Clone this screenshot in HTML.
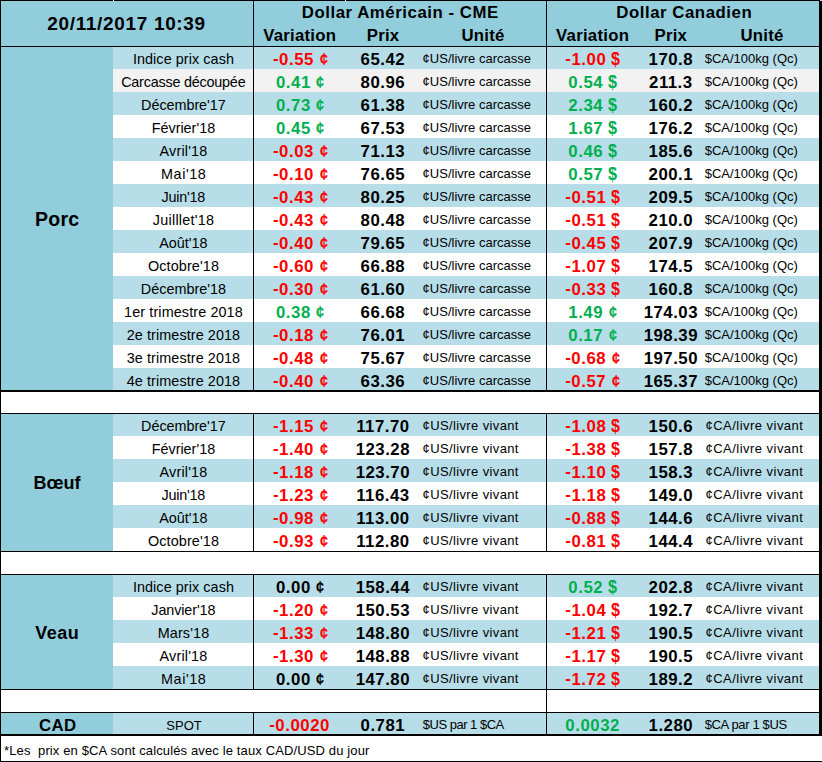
<!DOCTYPE html>
<html><head><meta charset="utf-8"><title>Prix</title>
<style>
html,body{margin:0;padding:0;background:#fff;}
body{width:822px;height:762px;position:relative;overflow:hidden;font-family:"Liberation Sans",sans-serif;}
.r{position:absolute;}
.t{position:absolute;white-space:nowrap;line-height:0;height:0;box-sizing:border-box;}
.c,.d{display:inline-block;transform-origin:0% 50%;letter-spacing:0;margin-left:-0.8px;}
.m{position:relative;top:-1px;}
.c{transform:scaleX(.86);margin-left:0.4px;}
.d{transform:scale(.96,1.08);}
</style></head><body>
<div class="r" style="left:0px;top:0px;width:822px;height:47px;background:#92CDDC"></div>
<div class="r" style="left:0px;top:46px;width:113px;height:345px;background:#92CDDC"></div>
<div class="r" style="left:113px;top:46px;width:706px;height:23px;background:#B7DEE8"></div>
<div class="t" style="font-size:14.4px;letter-spacing:0.07px;font-weight:normal;color:#000000;top:59.25px;left:-16.56px;width:400px;text-align:center;">Indice prix cash</div>
<div class="t" style="font-size:16.8px;letter-spacing:0.55px;font-weight:bold;color:#FF0000;top:59.75px;left:100.88px;width:400px;text-align:center;"><span class="m">-</span>0.55 <span class="c">¢</span></div>
<div class="t" style="font-size:16.8px;letter-spacing:0.5px;font-weight:bold;color:#000000;top:59.75px;left:182.85px;width:400px;text-align:center;">65.42</div>
<div class="t" style="font-size:13.0px;letter-spacing:0.0px;font-weight:normal;color:#000000;top:58.75px;left:422.6px;">¢US/livre carcasse</div>
<div class="t" style="font-size:16.8px;letter-spacing:0.55px;font-weight:bold;color:#FF0000;top:59.75px;left:392.67px;width:400px;text-align:center;"><span class="m">-</span>1.00 <span class="d">$</span></div>
<div class="t" style="font-size:16.8px;letter-spacing:0.5px;font-weight:bold;color:#000000;top:59.75px;left:470.85px;width:400px;text-align:center;">170.8</div>
<div class="t" style="font-size:13.0px;letter-spacing:0.0px;font-weight:normal;color:#000000;top:58.75px;left:704.7px;">$CA/100kg (Qc)</div>
<div class="r" style="left:113px;top:69px;width:706px;height:23px;background:#F2F2F2"></div>
<div class="t" style="font-size:14.4px;letter-spacing:-0.22px;font-weight:normal;color:#000000;top:82.25px;left:-16.71px;width:400px;text-align:center;">Carcasse découpée</div>
<div class="t" style="font-size:16.8px;letter-spacing:0.55px;font-weight:bold;color:#00B050;top:82.75px;left:100.88px;width:400px;text-align:center;">0.41 <span class="c">¢</span></div>
<div class="t" style="font-size:16.8px;letter-spacing:0.5px;font-weight:bold;color:#000000;top:82.75px;left:182.85px;width:400px;text-align:center;">80.96</div>
<div class="t" style="font-size:13.0px;letter-spacing:0.0px;font-weight:normal;color:#000000;top:81.75px;left:422.6px;">¢US/livre carcasse</div>
<div class="t" style="font-size:16.8px;letter-spacing:0.55px;font-weight:bold;color:#00B050;top:82.75px;left:392.67px;width:400px;text-align:center;">0.54 <span class="d">$</span></div>
<div class="t" style="font-size:16.8px;letter-spacing:0.5px;font-weight:bold;color:#000000;top:82.75px;left:470.85px;width:400px;text-align:center;">211.3</div>
<div class="t" style="font-size:13.0px;letter-spacing:0.0px;font-weight:normal;color:#000000;top:81.75px;left:704.7px;">$CA/100kg (Qc)</div>
<div class="r" style="left:113px;top:92px;width:706px;height:23px;background:#B7DEE8"></div>
<div class="t" style="font-size:14.4px;letter-spacing:-0.05px;font-weight:normal;color:#000000;top:105.25px;left:-16.62px;width:400px;text-align:center;">Décembre'17</div>
<div class="t" style="font-size:16.8px;letter-spacing:0.55px;font-weight:bold;color:#00B050;top:105.75px;left:100.88px;width:400px;text-align:center;">0.73 <span class="c">¢</span></div>
<div class="t" style="font-size:16.8px;letter-spacing:0.5px;font-weight:bold;color:#000000;top:105.75px;left:182.85px;width:400px;text-align:center;">61.38</div>
<div class="t" style="font-size:13.0px;letter-spacing:0.0px;font-weight:normal;color:#000000;top:104.75px;left:422.6px;">¢US/livre carcasse</div>
<div class="t" style="font-size:16.8px;letter-spacing:0.55px;font-weight:bold;color:#00B050;top:105.75px;left:392.67px;width:400px;text-align:center;">2.34 <span class="d">$</span></div>
<div class="t" style="font-size:16.8px;letter-spacing:0.5px;font-weight:bold;color:#000000;top:105.75px;left:470.85px;width:400px;text-align:center;">160.2</div>
<div class="t" style="font-size:13.0px;letter-spacing:0.0px;font-weight:normal;color:#000000;top:104.75px;left:704.7px;">$CA/100kg (Qc)</div>
<div class="r" style="left:113px;top:115px;width:706px;height:23px;background:#FFFFFF"></div>
<div class="t" style="font-size:14.4px;letter-spacing:0.0px;font-weight:normal;color:#000000;top:128.25px;left:-16.6px;width:400px;text-align:center;">Février'18</div>
<div class="t" style="font-size:16.8px;letter-spacing:0.55px;font-weight:bold;color:#00B050;top:128.75px;left:100.88px;width:400px;text-align:center;">0.45 <span class="c">¢</span></div>
<div class="t" style="font-size:16.8px;letter-spacing:0.5px;font-weight:bold;color:#000000;top:128.75px;left:182.85px;width:400px;text-align:center;">67.53</div>
<div class="t" style="font-size:13.0px;letter-spacing:0.0px;font-weight:normal;color:#000000;top:127.75px;left:422.6px;">¢US/livre carcasse</div>
<div class="t" style="font-size:16.8px;letter-spacing:0.55px;font-weight:bold;color:#00B050;top:128.75px;left:392.67px;width:400px;text-align:center;">1.67 <span class="d">$</span></div>
<div class="t" style="font-size:16.8px;letter-spacing:0.5px;font-weight:bold;color:#000000;top:128.75px;left:470.85px;width:400px;text-align:center;">176.2</div>
<div class="t" style="font-size:13.0px;letter-spacing:0.0px;font-weight:normal;color:#000000;top:127.75px;left:704.7px;">$CA/100kg (Qc)</div>
<div class="r" style="left:113px;top:138px;width:706px;height:23px;background:#B7DEE8"></div>
<div class="t" style="font-size:14.4px;letter-spacing:0.18px;font-weight:normal;color:#000000;top:151.25px;left:-16.51px;width:400px;text-align:center;">Avril'18</div>
<div class="t" style="font-size:16.8px;letter-spacing:0.55px;font-weight:bold;color:#FF0000;top:151.75px;left:100.88px;width:400px;text-align:center;"><span class="m">-</span>0.03 <span class="c">¢</span></div>
<div class="t" style="font-size:16.8px;letter-spacing:0.5px;font-weight:bold;color:#000000;top:151.75px;left:182.85px;width:400px;text-align:center;">71.13</div>
<div class="t" style="font-size:13.0px;letter-spacing:0.0px;font-weight:normal;color:#000000;top:150.75px;left:422.6px;">¢US/livre carcasse</div>
<div class="t" style="font-size:16.8px;letter-spacing:0.55px;font-weight:bold;color:#00B050;top:151.75px;left:392.67px;width:400px;text-align:center;">0.46 <span class="d">$</span></div>
<div class="t" style="font-size:16.8px;letter-spacing:0.5px;font-weight:bold;color:#000000;top:151.75px;left:470.85px;width:400px;text-align:center;">185.6</div>
<div class="t" style="font-size:13.0px;letter-spacing:0.0px;font-weight:normal;color:#000000;top:150.75px;left:704.7px;">$CA/100kg (Qc)</div>
<div class="r" style="left:113px;top:161px;width:706px;height:23px;background:#FFFFFF"></div>
<div class="t" style="font-size:14.4px;letter-spacing:0.54px;font-weight:normal;color:#000000;top:174.25px;left:-16.33px;width:400px;text-align:center;">Mai'18</div>
<div class="t" style="font-size:16.8px;letter-spacing:0.55px;font-weight:bold;color:#FF0000;top:174.75px;left:100.88px;width:400px;text-align:center;"><span class="m">-</span>0.10 <span class="c">¢</span></div>
<div class="t" style="font-size:16.8px;letter-spacing:0.5px;font-weight:bold;color:#000000;top:174.75px;left:182.85px;width:400px;text-align:center;">76.65</div>
<div class="t" style="font-size:13.0px;letter-spacing:0.0px;font-weight:normal;color:#000000;top:173.75px;left:422.6px;">¢US/livre carcasse</div>
<div class="t" style="font-size:16.8px;letter-spacing:0.55px;font-weight:bold;color:#00B050;top:174.75px;left:392.67px;width:400px;text-align:center;">0.57 <span class="d">$</span></div>
<div class="t" style="font-size:16.8px;letter-spacing:0.5px;font-weight:bold;color:#000000;top:174.75px;left:470.85px;width:400px;text-align:center;">200.1</div>
<div class="t" style="font-size:13.0px;letter-spacing:0.0px;font-weight:normal;color:#000000;top:173.75px;left:704.7px;">$CA/100kg (Qc)</div>
<div class="r" style="left:113px;top:184px;width:706px;height:23px;background:#B7DEE8"></div>
<div class="t" style="font-size:14.4px;letter-spacing:-0.23px;font-weight:normal;color:#000000;top:197.25px;left:-16.71px;width:400px;text-align:center;">Juin'18</div>
<div class="t" style="font-size:16.8px;letter-spacing:0.55px;font-weight:bold;color:#FF0000;top:197.75px;left:100.88px;width:400px;text-align:center;"><span class="m">-</span>0.43 <span class="c">¢</span></div>
<div class="t" style="font-size:16.8px;letter-spacing:0.5px;font-weight:bold;color:#000000;top:197.75px;left:182.85px;width:400px;text-align:center;">80.25</div>
<div class="t" style="font-size:13.0px;letter-spacing:0.0px;font-weight:normal;color:#000000;top:196.75px;left:422.6px;">¢US/livre carcasse</div>
<div class="t" style="font-size:16.8px;letter-spacing:0.55px;font-weight:bold;color:#FF0000;top:197.75px;left:392.67px;width:400px;text-align:center;"><span class="m">-</span>0.51 <span class="d">$</span></div>
<div class="t" style="font-size:16.8px;letter-spacing:0.5px;font-weight:bold;color:#000000;top:197.75px;left:470.85px;width:400px;text-align:center;">209.5</div>
<div class="t" style="font-size:13.0px;letter-spacing:0.0px;font-weight:normal;color:#000000;top:196.75px;left:704.7px;">$CA/100kg (Qc)</div>
<div class="r" style="left:113px;top:207px;width:706px;height:23px;background:#FFFFFF"></div>
<div class="t" style="font-size:14.4px;letter-spacing:0.24px;font-weight:normal;color:#000000;top:220.25px;left:-16.48px;width:400px;text-align:center;">Juilllet'18</div>
<div class="t" style="font-size:16.8px;letter-spacing:0.55px;font-weight:bold;color:#FF0000;top:220.75px;left:100.88px;width:400px;text-align:center;"><span class="m">-</span>0.43 <span class="c">¢</span></div>
<div class="t" style="font-size:16.8px;letter-spacing:0.5px;font-weight:bold;color:#000000;top:220.75px;left:182.85px;width:400px;text-align:center;">80.48</div>
<div class="t" style="font-size:13.0px;letter-spacing:0.0px;font-weight:normal;color:#000000;top:219.75px;left:422.6px;">¢US/livre carcasse</div>
<div class="t" style="font-size:16.8px;letter-spacing:0.55px;font-weight:bold;color:#FF0000;top:220.75px;left:392.67px;width:400px;text-align:center;"><span class="m">-</span>0.51 <span class="d">$</span></div>
<div class="t" style="font-size:16.8px;letter-spacing:0.5px;font-weight:bold;color:#000000;top:220.75px;left:470.85px;width:400px;text-align:center;">210.0</div>
<div class="t" style="font-size:13.0px;letter-spacing:0.0px;font-weight:normal;color:#000000;top:219.75px;left:704.7px;">$CA/100kg (Qc)</div>
<div class="r" style="left:113px;top:230px;width:706px;height:23px;background:#B7DEE8"></div>
<div class="t" style="font-size:14.4px;letter-spacing:0.0px;font-weight:normal;color:#000000;top:243.25px;left:-16.6px;width:400px;text-align:center;">Août'18</div>
<div class="t" style="font-size:16.8px;letter-spacing:0.55px;font-weight:bold;color:#FF0000;top:243.75px;left:100.88px;width:400px;text-align:center;"><span class="m">-</span>0.40 <span class="c">¢</span></div>
<div class="t" style="font-size:16.8px;letter-spacing:0.5px;font-weight:bold;color:#000000;top:243.75px;left:182.85px;width:400px;text-align:center;">79.65</div>
<div class="t" style="font-size:13.0px;letter-spacing:0.0px;font-weight:normal;color:#000000;top:242.75px;left:422.6px;">¢US/livre carcasse</div>
<div class="t" style="font-size:16.8px;letter-spacing:0.55px;font-weight:bold;color:#FF0000;top:243.75px;left:392.67px;width:400px;text-align:center;"><span class="m">-</span>0.45 <span class="d">$</span></div>
<div class="t" style="font-size:16.8px;letter-spacing:0.5px;font-weight:bold;color:#000000;top:243.75px;left:470.85px;width:400px;text-align:center;">207.9</div>
<div class="t" style="font-size:13.0px;letter-spacing:0.0px;font-weight:normal;color:#000000;top:242.75px;left:704.7px;">$CA/100kg (Qc)</div>
<div class="r" style="left:113px;top:253px;width:706px;height:23px;background:#FFFFFF"></div>
<div class="t" style="font-size:14.4px;letter-spacing:0.12px;font-weight:normal;color:#000000;top:266.25px;left:-16.54px;width:400px;text-align:center;">Octobre'18</div>
<div class="t" style="font-size:16.8px;letter-spacing:0.55px;font-weight:bold;color:#FF0000;top:266.75px;left:100.88px;width:400px;text-align:center;"><span class="m">-</span>0.60 <span class="c">¢</span></div>
<div class="t" style="font-size:16.8px;letter-spacing:0.5px;font-weight:bold;color:#000000;top:266.75px;left:182.85px;width:400px;text-align:center;">66.88</div>
<div class="t" style="font-size:13.0px;letter-spacing:0.0px;font-weight:normal;color:#000000;top:265.75px;left:422.6px;">¢US/livre carcasse</div>
<div class="t" style="font-size:16.8px;letter-spacing:0.55px;font-weight:bold;color:#FF0000;top:266.75px;left:392.67px;width:400px;text-align:center;"><span class="m">-</span>1.07 <span class="d">$</span></div>
<div class="t" style="font-size:16.8px;letter-spacing:0.5px;font-weight:bold;color:#000000;top:266.75px;left:470.85px;width:400px;text-align:center;">174.5</div>
<div class="t" style="font-size:13.0px;letter-spacing:0.0px;font-weight:normal;color:#000000;top:265.75px;left:704.7px;">$CA/100kg (Qc)</div>
<div class="r" style="left:113px;top:276px;width:706px;height:23px;background:#B7DEE8"></div>
<div class="t" style="font-size:14.4px;letter-spacing:0.0px;font-weight:normal;color:#000000;top:289.25px;left:-16.6px;width:400px;text-align:center;">Décembre'18</div>
<div class="t" style="font-size:16.8px;letter-spacing:0.55px;font-weight:bold;color:#FF0000;top:289.75px;left:100.88px;width:400px;text-align:center;"><span class="m">-</span>0.30 <span class="c">¢</span></div>
<div class="t" style="font-size:16.8px;letter-spacing:0.5px;font-weight:bold;color:#000000;top:289.75px;left:182.85px;width:400px;text-align:center;">61.60</div>
<div class="t" style="font-size:13.0px;letter-spacing:0.0px;font-weight:normal;color:#000000;top:288.75px;left:422.6px;">¢US/livre carcasse</div>
<div class="t" style="font-size:16.8px;letter-spacing:0.55px;font-weight:bold;color:#FF0000;top:289.75px;left:392.67px;width:400px;text-align:center;"><span class="m">-</span>0.33 <span class="d">$</span></div>
<div class="t" style="font-size:16.8px;letter-spacing:0.5px;font-weight:bold;color:#000000;top:289.75px;left:470.85px;width:400px;text-align:center;">160.8</div>
<div class="t" style="font-size:13.0px;letter-spacing:0.0px;font-weight:normal;color:#000000;top:288.75px;left:704.7px;">$CA/100kg (Qc)</div>
<div class="r" style="left:113px;top:299px;width:706px;height:23px;background:#FFFFFF"></div>
<div class="t" style="font-size:14.4px;letter-spacing:0.11px;font-weight:normal;color:#000000;top:312.25px;left:-16.54px;width:400px;text-align:center;">1er trimestre 2018</div>
<div class="t" style="font-size:16.8px;letter-spacing:0.55px;font-weight:bold;color:#00B050;top:312.75px;left:100.88px;width:400px;text-align:center;">0.38 <span class="c">¢</span></div>
<div class="t" style="font-size:16.8px;letter-spacing:0.5px;font-weight:bold;color:#000000;top:312.75px;left:182.85px;width:400px;text-align:center;">66.68</div>
<div class="t" style="font-size:13.0px;letter-spacing:0.0px;font-weight:normal;color:#000000;top:311.75px;left:422.6px;">¢US/livre carcasse</div>
<div class="t" style="font-size:16.8px;letter-spacing:0.55px;font-weight:bold;color:#00B050;top:312.75px;left:393.17px;width:400px;text-align:center;">1.49 <span class="c">¢</span></div>
<div class="t" style="font-size:16.8px;letter-spacing:0.5px;font-weight:bold;color:#000000;top:312.75px;left:470.85px;width:400px;text-align:center;">174.03</div>
<div class="t" style="font-size:13.0px;letter-spacing:0.0px;font-weight:normal;color:#000000;top:311.75px;left:704.7px;">$CA/100kg (Qc)</div>
<div class="r" style="left:113px;top:322px;width:706px;height:23px;background:#B7DEE8"></div>
<div class="t" style="font-size:14.4px;letter-spacing:0.09px;font-weight:normal;color:#000000;top:335.25px;left:-16.55px;width:400px;text-align:center;">2e trimestre 2018</div>
<div class="t" style="font-size:16.8px;letter-spacing:0.55px;font-weight:bold;color:#FF0000;top:335.75px;left:100.88px;width:400px;text-align:center;"><span class="m">-</span>0.18 <span class="c">¢</span></div>
<div class="t" style="font-size:16.8px;letter-spacing:0.5px;font-weight:bold;color:#000000;top:335.75px;left:182.85px;width:400px;text-align:center;">76.01</div>
<div class="t" style="font-size:13.0px;letter-spacing:0.0px;font-weight:normal;color:#000000;top:334.75px;left:422.6px;">¢US/livre carcasse</div>
<div class="t" style="font-size:16.8px;letter-spacing:0.55px;font-weight:bold;color:#00B050;top:335.75px;left:393.17px;width:400px;text-align:center;">0.17 <span class="c">¢</span></div>
<div class="t" style="font-size:16.8px;letter-spacing:0.5px;font-weight:bold;color:#000000;top:335.75px;left:470.85px;width:400px;text-align:center;">198.39</div>
<div class="t" style="font-size:13.0px;letter-spacing:0.0px;font-weight:normal;color:#000000;top:334.75px;left:704.7px;">$CA/100kg (Qc)</div>
<div class="r" style="left:113px;top:345px;width:706px;height:23px;background:#FFFFFF"></div>
<div class="t" style="font-size:14.4px;letter-spacing:0.09px;font-weight:normal;color:#000000;top:358.25px;left:-16.55px;width:400px;text-align:center;">3e trimestre 2018</div>
<div class="t" style="font-size:16.8px;letter-spacing:0.55px;font-weight:bold;color:#FF0000;top:358.75px;left:100.88px;width:400px;text-align:center;"><span class="m">-</span>0.48 <span class="c">¢</span></div>
<div class="t" style="font-size:16.8px;letter-spacing:0.5px;font-weight:bold;color:#000000;top:358.75px;left:182.85px;width:400px;text-align:center;">75.67</div>
<div class="t" style="font-size:13.0px;letter-spacing:0.0px;font-weight:normal;color:#000000;top:357.75px;left:422.6px;">¢US/livre carcasse</div>
<div class="t" style="font-size:16.8px;letter-spacing:0.55px;font-weight:bold;color:#FF0000;top:358.75px;left:393.17px;width:400px;text-align:center;"><span class="m">-</span>0.68 <span class="c">¢</span></div>
<div class="t" style="font-size:16.8px;letter-spacing:0.5px;font-weight:bold;color:#000000;top:358.75px;left:470.85px;width:400px;text-align:center;">197.50</div>
<div class="t" style="font-size:13.0px;letter-spacing:0.0px;font-weight:normal;color:#000000;top:357.75px;left:704.7px;">$CA/100kg (Qc)</div>
<div class="r" style="left:113px;top:368px;width:706px;height:23px;background:#B7DEE8"></div>
<div class="t" style="font-size:14.4px;letter-spacing:0.09px;font-weight:normal;color:#000000;top:381.25px;left:-16.55px;width:400px;text-align:center;">4e trimestre 2018</div>
<div class="t" style="font-size:16.8px;letter-spacing:0.55px;font-weight:bold;color:#FF0000;top:381.75px;left:100.88px;width:400px;text-align:center;"><span class="m">-</span>0.40 <span class="c">¢</span></div>
<div class="t" style="font-size:16.8px;letter-spacing:0.5px;font-weight:bold;color:#000000;top:381.75px;left:182.85px;width:400px;text-align:center;">63.36</div>
<div class="t" style="font-size:13.0px;letter-spacing:0.0px;font-weight:normal;color:#000000;top:380.75px;left:422.6px;">¢US/livre carcasse</div>
<div class="t" style="font-size:16.8px;letter-spacing:0.55px;font-weight:bold;color:#FF0000;top:381.75px;left:393.17px;width:400px;text-align:center;"><span class="m">-</span>0.57 <span class="c">¢</span></div>
<div class="t" style="font-size:16.8px;letter-spacing:0.5px;font-weight:bold;color:#000000;top:381.75px;left:470.85px;width:400px;text-align:center;">165.37</div>
<div class="t" style="font-size:13.0px;letter-spacing:0.0px;font-weight:normal;color:#000000;top:380.75px;left:704.7px;">$CA/100kg (Qc)</div>
<div class="t" style="font-size:19.5px;letter-spacing:0.3px;font-weight:bold;color:#000000;top:219.25px;left:-142.85px;width:400px;text-align:center;">Porc</div>
<div class="r" style="left:0px;top:413px;width:113px;height:138px;background:#92CDDC"></div>
<div class="r" style="left:113px;top:413px;width:706px;height:23px;background:#B7DEE8"></div>
<div class="t" style="font-size:14.4px;letter-spacing:-0.05px;font-weight:normal;color:#000000;top:426.25px;left:-16.62px;width:400px;text-align:center;">Décembre'17</div>
<div class="t" style="font-size:16.8px;letter-spacing:0.55px;font-weight:bold;color:#FF0000;top:426.75px;left:100.88px;width:400px;text-align:center;"><span class="m">-</span>1.15 <span class="c">¢</span></div>
<div class="t" style="font-size:16.8px;letter-spacing:0.5px;font-weight:bold;color:#000000;top:426.75px;left:182.85px;width:400px;text-align:center;">117.70</div>
<div class="t" style="font-size:13.0px;letter-spacing:0.37px;font-weight:normal;color:#000000;top:425.75px;left:422.6px;">¢US/livre vivant</div>
<div class="t" style="font-size:16.8px;letter-spacing:0.55px;font-weight:bold;color:#FF0000;top:426.75px;left:392.67px;width:400px;text-align:center;"><span class="m">-</span>1.08 <span class="d">$</span></div>
<div class="t" style="font-size:16.8px;letter-spacing:0.5px;font-weight:bold;color:#000000;top:426.75px;left:470.85px;width:400px;text-align:center;">150.6</div>
<div class="t" style="font-size:13.0px;letter-spacing:0.47px;font-weight:normal;color:#000000;top:425.75px;left:705.5px;">¢CA/livre vivant</div>
<div class="r" style="left:113px;top:436px;width:706px;height:23px;background:#FFFFFF"></div>
<div class="t" style="font-size:14.4px;letter-spacing:0.0px;font-weight:normal;color:#000000;top:449.25px;left:-16.6px;width:400px;text-align:center;">Février'18</div>
<div class="t" style="font-size:16.8px;letter-spacing:0.55px;font-weight:bold;color:#FF0000;top:449.75px;left:100.88px;width:400px;text-align:center;"><span class="m">-</span>1.40 <span class="c">¢</span></div>
<div class="t" style="font-size:16.8px;letter-spacing:0.5px;font-weight:bold;color:#000000;top:449.75px;left:182.85px;width:400px;text-align:center;">123.28</div>
<div class="t" style="font-size:13.0px;letter-spacing:0.37px;font-weight:normal;color:#000000;top:448.75px;left:422.6px;">¢US/livre vivant</div>
<div class="t" style="font-size:16.8px;letter-spacing:0.55px;font-weight:bold;color:#FF0000;top:449.75px;left:392.67px;width:400px;text-align:center;"><span class="m">-</span>1.38 <span class="d">$</span></div>
<div class="t" style="font-size:16.8px;letter-spacing:0.5px;font-weight:bold;color:#000000;top:449.75px;left:470.85px;width:400px;text-align:center;">157.8</div>
<div class="t" style="font-size:13.0px;letter-spacing:0.47px;font-weight:normal;color:#000000;top:448.75px;left:705.5px;">¢CA/livre vivant</div>
<div class="r" style="left:113px;top:459px;width:706px;height:23px;background:#B7DEE8"></div>
<div class="t" style="font-size:14.4px;letter-spacing:0.18px;font-weight:normal;color:#000000;top:472.25px;left:-16.51px;width:400px;text-align:center;">Avril'18</div>
<div class="t" style="font-size:16.8px;letter-spacing:0.55px;font-weight:bold;color:#FF0000;top:472.75px;left:100.88px;width:400px;text-align:center;"><span class="m">-</span>1.18 <span class="c">¢</span></div>
<div class="t" style="font-size:16.8px;letter-spacing:0.5px;font-weight:bold;color:#000000;top:472.75px;left:182.85px;width:400px;text-align:center;">123.70</div>
<div class="t" style="font-size:13.0px;letter-spacing:0.37px;font-weight:normal;color:#000000;top:471.75px;left:422.6px;">¢US/livre vivant</div>
<div class="t" style="font-size:16.8px;letter-spacing:0.55px;font-weight:bold;color:#FF0000;top:472.75px;left:392.67px;width:400px;text-align:center;"><span class="m">-</span>1.10 <span class="d">$</span></div>
<div class="t" style="font-size:16.8px;letter-spacing:0.5px;font-weight:bold;color:#000000;top:472.75px;left:470.85px;width:400px;text-align:center;">158.3</div>
<div class="t" style="font-size:13.0px;letter-spacing:0.47px;font-weight:normal;color:#000000;top:471.75px;left:705.5px;">¢CA/livre vivant</div>
<div class="r" style="left:113px;top:482px;width:706px;height:23px;background:#FFFFFF"></div>
<div class="t" style="font-size:14.4px;letter-spacing:-0.23px;font-weight:normal;color:#000000;top:495.25px;left:-16.71px;width:400px;text-align:center;">Juin'18</div>
<div class="t" style="font-size:16.8px;letter-spacing:0.55px;font-weight:bold;color:#FF0000;top:495.75px;left:100.88px;width:400px;text-align:center;"><span class="m">-</span>1.23 <span class="c">¢</span></div>
<div class="t" style="font-size:16.8px;letter-spacing:0.5px;font-weight:bold;color:#000000;top:495.75px;left:182.85px;width:400px;text-align:center;">116.43</div>
<div class="t" style="font-size:13.0px;letter-spacing:0.37px;font-weight:normal;color:#000000;top:494.75px;left:422.6px;">¢US/livre vivant</div>
<div class="t" style="font-size:16.8px;letter-spacing:0.55px;font-weight:bold;color:#FF0000;top:495.75px;left:392.67px;width:400px;text-align:center;"><span class="m">-</span>1.18 <span class="d">$</span></div>
<div class="t" style="font-size:16.8px;letter-spacing:0.5px;font-weight:bold;color:#000000;top:495.75px;left:470.85px;width:400px;text-align:center;">149.0</div>
<div class="t" style="font-size:13.0px;letter-spacing:0.47px;font-weight:normal;color:#000000;top:494.75px;left:705.5px;">¢CA/livre vivant</div>
<div class="r" style="left:113px;top:505px;width:706px;height:23px;background:#B7DEE8"></div>
<div class="t" style="font-size:14.4px;letter-spacing:0.0px;font-weight:normal;color:#000000;top:518.25px;left:-16.6px;width:400px;text-align:center;">Août'18</div>
<div class="t" style="font-size:16.8px;letter-spacing:0.55px;font-weight:bold;color:#FF0000;top:518.75px;left:100.88px;width:400px;text-align:center;"><span class="m">-</span>0.98 <span class="c">¢</span></div>
<div class="t" style="font-size:16.8px;letter-spacing:0.5px;font-weight:bold;color:#000000;top:518.75px;left:182.85px;width:400px;text-align:center;">113.00</div>
<div class="t" style="font-size:13.0px;letter-spacing:0.37px;font-weight:normal;color:#000000;top:517.75px;left:422.6px;">¢US/livre vivant</div>
<div class="t" style="font-size:16.8px;letter-spacing:0.55px;font-weight:bold;color:#FF0000;top:518.75px;left:392.67px;width:400px;text-align:center;"><span class="m">-</span>0.88 <span class="d">$</span></div>
<div class="t" style="font-size:16.8px;letter-spacing:0.5px;font-weight:bold;color:#000000;top:518.75px;left:470.85px;width:400px;text-align:center;">144.6</div>
<div class="t" style="font-size:13.0px;letter-spacing:0.47px;font-weight:normal;color:#000000;top:517.75px;left:705.5px;">¢CA/livre vivant</div>
<div class="r" style="left:113px;top:528px;width:706px;height:23px;background:#FFFFFF"></div>
<div class="t" style="font-size:14.4px;letter-spacing:0.12px;font-weight:normal;color:#000000;top:541.25px;left:-16.54px;width:400px;text-align:center;">Octobre'18</div>
<div class="t" style="font-size:16.8px;letter-spacing:0.55px;font-weight:bold;color:#FF0000;top:541.75px;left:100.88px;width:400px;text-align:center;"><span class="m">-</span>0.93 <span class="c">¢</span></div>
<div class="t" style="font-size:16.8px;letter-spacing:0.5px;font-weight:bold;color:#000000;top:541.75px;left:182.85px;width:400px;text-align:center;">112.80</div>
<div class="t" style="font-size:13.0px;letter-spacing:0.37px;font-weight:normal;color:#000000;top:540.75px;left:422.6px;">¢US/livre vivant</div>
<div class="t" style="font-size:16.8px;letter-spacing:0.55px;font-weight:bold;color:#FF0000;top:541.75px;left:392.67px;width:400px;text-align:center;"><span class="m">-</span>0.81 <span class="d">$</span></div>
<div class="t" style="font-size:16.8px;letter-spacing:0.5px;font-weight:bold;color:#000000;top:541.75px;left:470.85px;width:400px;text-align:center;">144.4</div>
<div class="t" style="font-size:13.0px;letter-spacing:0.47px;font-weight:normal;color:#000000;top:540.75px;left:705.5px;">¢CA/livre vivant</div>
<div class="t" style="font-size:18.0px;letter-spacing:0.0px;font-weight:bold;color:#000000;top:483.25px;left:-143.0px;width:400px;text-align:center;">Bœuf</div>
<div class="r" style="left:0px;top:574px;width:113px;height:115px;background:#92CDDC"></div>
<div class="r" style="left:113px;top:574px;width:706px;height:23px;background:#B7DEE8"></div>
<div class="t" style="font-size:14.4px;letter-spacing:0.07px;font-weight:normal;color:#000000;top:587.25px;left:-16.56px;width:400px;text-align:center;">Indice prix cash</div>
<div class="t" style="font-size:16.8px;letter-spacing:0.55px;font-weight:bold;color:#000000;top:587.75px;left:100.88px;width:400px;text-align:center;">0.00 <span class="c">¢</span></div>
<div class="t" style="font-size:16.8px;letter-spacing:0.5px;font-weight:bold;color:#000000;top:587.75px;left:182.85px;width:400px;text-align:center;">158.44</div>
<div class="t" style="font-size:13.0px;letter-spacing:0.37px;font-weight:normal;color:#000000;top:586.75px;left:422.6px;">¢US/livre vivant</div>
<div class="t" style="font-size:16.8px;letter-spacing:0.55px;font-weight:bold;color:#00B050;top:587.75px;left:392.67px;width:400px;text-align:center;">0.52 <span class="d">$</span></div>
<div class="t" style="font-size:16.8px;letter-spacing:0.5px;font-weight:bold;color:#000000;top:587.75px;left:470.85px;width:400px;text-align:center;">202.8</div>
<div class="t" style="font-size:13.0px;letter-spacing:0.47px;font-weight:normal;color:#000000;top:586.75px;left:705.5px;">¢CA/livre vivant</div>
<div class="r" style="left:113px;top:597px;width:706px;height:23px;background:#FFFFFF"></div>
<div class="t" style="font-size:14.4px;letter-spacing:-0.12px;font-weight:normal;color:#000000;top:610.25px;left:-16.66px;width:400px;text-align:center;">Janvier'18</div>
<div class="t" style="font-size:16.8px;letter-spacing:0.55px;font-weight:bold;color:#FF0000;top:610.75px;left:100.88px;width:400px;text-align:center;"><span class="m">-</span>1.20 <span class="c">¢</span></div>
<div class="t" style="font-size:16.8px;letter-spacing:0.5px;font-weight:bold;color:#000000;top:610.75px;left:182.85px;width:400px;text-align:center;">150.53</div>
<div class="t" style="font-size:13.0px;letter-spacing:0.37px;font-weight:normal;color:#000000;top:609.75px;left:422.6px;">¢US/livre vivant</div>
<div class="t" style="font-size:16.8px;letter-spacing:0.55px;font-weight:bold;color:#FF0000;top:610.75px;left:392.67px;width:400px;text-align:center;"><span class="m">-</span>1.04 <span class="d">$</span></div>
<div class="t" style="font-size:16.8px;letter-spacing:0.5px;font-weight:bold;color:#000000;top:610.75px;left:470.85px;width:400px;text-align:center;">192.7</div>
<div class="t" style="font-size:13.0px;letter-spacing:0.47px;font-weight:normal;color:#000000;top:609.75px;left:705.5px;">¢CA/livre vivant</div>
<div class="r" style="left:113px;top:620px;width:706px;height:23px;background:#B7DEE8"></div>
<div class="t" style="font-size:14.4px;letter-spacing:0.13px;font-weight:normal;color:#000000;top:633.25px;left:-16.53px;width:400px;text-align:center;">Mars'18</div>
<div class="t" style="font-size:16.8px;letter-spacing:0.55px;font-weight:bold;color:#FF0000;top:633.75px;left:100.88px;width:400px;text-align:center;"><span class="m">-</span>1.33 <span class="c">¢</span></div>
<div class="t" style="font-size:16.8px;letter-spacing:0.5px;font-weight:bold;color:#000000;top:633.75px;left:182.85px;width:400px;text-align:center;">148.80</div>
<div class="t" style="font-size:13.0px;letter-spacing:0.37px;font-weight:normal;color:#000000;top:632.75px;left:422.6px;">¢US/livre vivant</div>
<div class="t" style="font-size:16.8px;letter-spacing:0.55px;font-weight:bold;color:#FF0000;top:633.75px;left:392.67px;width:400px;text-align:center;"><span class="m">-</span>1.21 <span class="d">$</span></div>
<div class="t" style="font-size:16.8px;letter-spacing:0.5px;font-weight:bold;color:#000000;top:633.75px;left:470.85px;width:400px;text-align:center;">190.5</div>
<div class="t" style="font-size:13.0px;letter-spacing:0.47px;font-weight:normal;color:#000000;top:632.75px;left:705.5px;">¢CA/livre vivant</div>
<div class="r" style="left:113px;top:643px;width:706px;height:23px;background:#FFFFFF"></div>
<div class="t" style="font-size:14.4px;letter-spacing:0.18px;font-weight:normal;color:#000000;top:656.25px;left:-16.51px;width:400px;text-align:center;">Avril'18</div>
<div class="t" style="font-size:16.8px;letter-spacing:0.55px;font-weight:bold;color:#FF0000;top:656.75px;left:100.88px;width:400px;text-align:center;"><span class="m">-</span>1.30 <span class="c">¢</span></div>
<div class="t" style="font-size:16.8px;letter-spacing:0.5px;font-weight:bold;color:#000000;top:656.75px;left:182.85px;width:400px;text-align:center;">148.88</div>
<div class="t" style="font-size:13.0px;letter-spacing:0.37px;font-weight:normal;color:#000000;top:655.75px;left:422.6px;">¢US/livre vivant</div>
<div class="t" style="font-size:16.8px;letter-spacing:0.55px;font-weight:bold;color:#FF0000;top:656.75px;left:392.67px;width:400px;text-align:center;"><span class="m">-</span>1.17 <span class="d">$</span></div>
<div class="t" style="font-size:16.8px;letter-spacing:0.5px;font-weight:bold;color:#000000;top:656.75px;left:470.85px;width:400px;text-align:center;">190.5</div>
<div class="t" style="font-size:13.0px;letter-spacing:0.47px;font-weight:normal;color:#000000;top:655.75px;left:705.5px;">¢CA/livre vivant</div>
<div class="r" style="left:113px;top:666px;width:706px;height:23px;background:#B7DEE8"></div>
<div class="t" style="font-size:14.4px;letter-spacing:0.54px;font-weight:normal;color:#000000;top:679.25px;left:-16.33px;width:400px;text-align:center;">Mai'18</div>
<div class="t" style="font-size:16.8px;letter-spacing:0.55px;font-weight:bold;color:#000000;top:679.75px;left:100.88px;width:400px;text-align:center;">0.00 <span class="c">¢</span></div>
<div class="t" style="font-size:16.8px;letter-spacing:0.5px;font-weight:bold;color:#000000;top:679.75px;left:182.85px;width:400px;text-align:center;">147.80</div>
<div class="t" style="font-size:13.0px;letter-spacing:0.37px;font-weight:normal;color:#000000;top:678.75px;left:422.6px;">¢US/livre vivant</div>
<div class="t" style="font-size:16.8px;letter-spacing:0.55px;font-weight:bold;color:#FF0000;top:679.75px;left:392.67px;width:400px;text-align:center;"><span class="m">-</span>1.72 <span class="d">$</span></div>
<div class="t" style="font-size:16.8px;letter-spacing:0.5px;font-weight:bold;color:#000000;top:679.75px;left:470.85px;width:400px;text-align:center;">189.2</div>
<div class="t" style="font-size:13.0px;letter-spacing:0.47px;font-weight:normal;color:#000000;top:678.75px;left:705.5px;">¢CA/livre vivant</div>
<div class="t" style="font-size:18.0px;letter-spacing:0.55px;font-weight:bold;color:#000000;top:633.25px;left:-142.72px;width:400px;text-align:center;">Veau</div>
<div class="r" style="left:0px;top:712px;width:113px;height:24px;background:#92CDDC"></div>
<div class="r" style="left:113px;top:712px;width:706px;height:24px;background:#B7DEE8"></div>
<div class="t" style="font-size:16.8px;letter-spacing:0.3px;font-weight:bold;color:#000000;top:725.75px;left:-142.25px;width:400px;text-align:center;">CAD</div>
<div class="t" style="font-size:13.0px;letter-spacing:0.0px;font-weight:normal;color:#000000;top:725.75px;left:-16.0px;width:400px;text-align:center;">SPOT</div>
<div class="t" style="font-size:16.8px;letter-spacing:0.55px;font-weight:bold;color:#FF0000;top:725.75px;left:99.58px;width:400px;text-align:center;"><span class="m">-</span>0.0020</div>
<div class="t" style="font-size:16.8px;letter-spacing:0.5px;font-weight:bold;color:#000000;top:725.75px;left:182.85px;width:400px;text-align:center;">0.781</div>
<div class="t" style="font-size:13.0px;letter-spacing:-0.5px;font-weight:normal;color:#000000;top:724.75px;left:422.8px;">$US par 1 $CA</div>
<div class="t" style="font-size:16.8px;letter-spacing:0.55px;font-weight:bold;color:#00B050;top:725.75px;left:392.67px;width:400px;text-align:center;">0.0032</div>
<div class="t" style="font-size:16.8px;letter-spacing:0.5px;font-weight:bold;color:#000000;top:725.75px;left:470.85px;width:400px;text-align:center;">1.280</div>
<div class="t" style="font-size:13.0px;letter-spacing:-0.36px;font-weight:normal;color:#000000;top:724.75px;left:704.7px;">$CA par 1 $US</div>
<div class="r" style="left:0px;top:392px;width:822px;height:22px;background:#FFFFFF"></div>
<div class="r" style="left:0px;top:552px;width:822px;height:23px;background:#FFFFFF"></div>
<div class="r" style="left:0px;top:690px;width:822px;height:23px;background:#FFFFFF"></div>
<div class="r" style="left:0px;top:736px;width:822px;height:26px;background:#FFFFFF"></div>
<div class="t" style="font-size:19.0px;letter-spacing:0.67px;font-weight:bold;color:#000000;top:23.75px;left:-73.47px;width:400px;text-align:center;">20/11/2017 10:39</div>
<div class="t" style="font-size:16.8px;letter-spacing:0.55px;font-weight:bold;color:#000000;top:12.75px;left:200.28px;width:400px;text-align:center;">Dollar Américain - CME</div>
<div class="t" style="font-size:16.8px;letter-spacing:0.55px;font-weight:bold;color:#000000;top:12.75px;left:484.27px;width:400px;text-align:center;">Dollar Canadien</div>
<div class="t" style="font-size:16.8px;letter-spacing:0.25px;font-weight:bold;color:#000000;top:35.75px;left:99.73px;width:400px;text-align:center;">Variation</div>
<div class="t" style="font-size:16.8px;letter-spacing:0.25px;font-weight:bold;color:#000000;top:35.75px;left:183.12px;width:400px;text-align:center;">Prix</div>
<div class="t" style="font-size:16.8px;letter-spacing:0.25px;font-weight:bold;color:#000000;top:35.75px;left:283.12px;width:400px;text-align:center;">Unité</div>
<div class="t" style="font-size:16.8px;letter-spacing:0.25px;font-weight:bold;color:#000000;top:35.75px;left:392.62px;width:400px;text-align:center;">Variation</div>
<div class="t" style="font-size:16.8px;letter-spacing:0.25px;font-weight:bold;color:#000000;top:35.75px;left:470.83px;width:400px;text-align:center;">Prix</div>
<div class="t" style="font-size:16.8px;letter-spacing:0.25px;font-weight:bold;color:#000000;top:35.75px;left:562.12px;width:400px;text-align:center;">Unité</div>
<div class="t" style="font-size:13.0px;letter-spacing:0.13px;font-weight:normal;color:#000000;top:750.75px;left:4px;">*Les&nbsp; prix en $CA sont calculés avec le taux CAD/USD du jour</div>
<div class="r" style="left:0px;top:0px;width:822px;height:1px;background:#000000"></div>
<div class="r" style="left:0px;top:46px;width:820px;height:1px;background:#000000"></div>
<div class="r" style="left:0px;top:390px;width:822px;height:2px;background:#000000"></div>
<div class="r" style="left:0px;top:413px;width:822px;height:1px;background:#000000"></div>
<div class="r" style="left:0px;top:551px;width:822px;height:1px;background:#000000"></div>
<div class="r" style="left:0px;top:574px;width:822px;height:1px;background:#000000"></div>
<div class="r" style="left:0px;top:689px;width:822px;height:1px;background:#000000"></div>
<div class="r" style="left:0px;top:712px;width:822px;height:1px;background:#000000"></div>
<div class="r" style="left:0px;top:734px;width:822px;height:2px;background:#000000"></div>
<div class="r" style="left:0px;top:761px;width:822px;height:1px;background:#000000"></div>
<div class="r" style="left:0px;top:0px;width:1px;height:762px;background:#000000"></div>
<div class="r" style="left:819px;top:0px;width:3px;height:736px;background:#000000"></div>
<div class="r" style="left:253px;top:0px;width:1px;height:392px;background:#000000"></div>
<div class="r" style="left:253px;top:413px;width:1px;height:139px;background:#000000"></div>
<div class="r" style="left:253px;top:574px;width:1px;height:116px;background:#000000"></div>
<div class="r" style="left:253px;top:712px;width:1px;height:24px;background:#000000"></div>
<div class="r" style="left:546px;top:0px;width:1px;height:392px;background:#000000"></div>
<div class="r" style="left:546px;top:413px;width:1px;height:139px;background:#000000"></div>
<div class="r" style="left:546px;top:574px;width:1px;height:116px;background:#000000"></div>
<div class="r" style="left:546px;top:712px;width:1px;height:24px;background:#000000"></div>
<div class="r" style="left:546px;top:690px;width:1px;height:22px;background:#000000"></div>
<div class="r" style="left:113px;top:0px;width:1px;height:1px;background:#fff"></div>
<div class="r" style="left:345px;top:0px;width:1px;height:1px;background:#fff"></div>
<div class="r" style="left:820px;top:0px;width:2px;height:1px;background:#ddd"></div>
</body></html>
